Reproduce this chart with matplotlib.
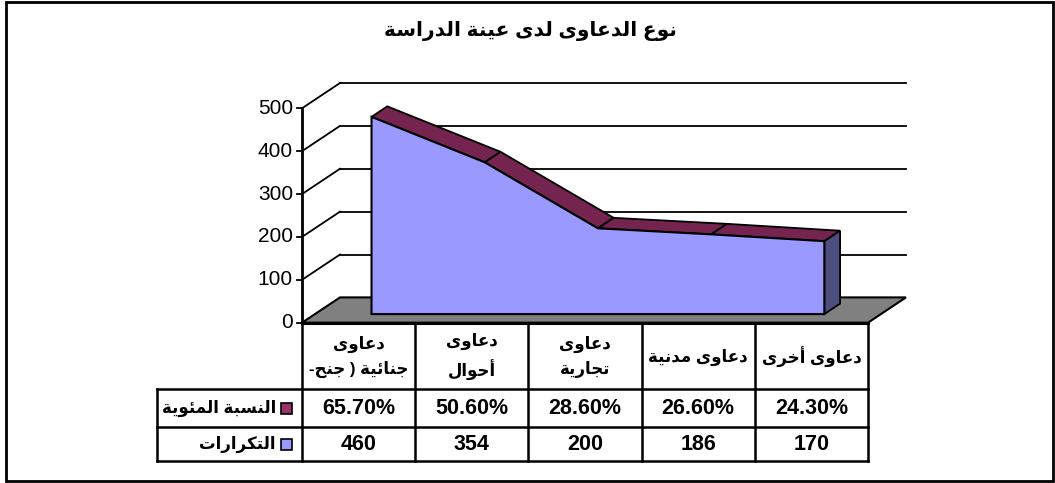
import numpy as np
import matplotlib
matplotlib.use("Agg")
import matplotlib.pyplot as plt
from matplotlib.patches import Polygon, Rectangle

# ---------------- data ----------------
title = "نوع الدعاوى لدى عينة الدراسة"
categories = ["دعاوى\nجنائية ( جنح-", "دعاوى\nأحوال", "دعاوى\nتجارية", "دعاوى مدنية", "دعاوى أخرى"]
counts = [460, 354, 200, 186, 170]
percents = [65.70, 50.60, 28.60, 26.60, 24.30]
series_names = ["النسبة المئوية", "التكرارات"]
series_colors = ["#993366", "#9999FF"]
y_ticks = [0, 100, 200, 300, 400, 500]

# ---------------- minimal Arabic shaping ----------------
FORMS = {
    '\u0621': ('\uFE80', None, None, None),
    '\u0622': ('\uFE81', '\uFE82', None, None),
    '\u0623': ('\uFE83', '\uFE84', None, None),
    '\u0624': ('\uFE85', '\uFE86', None, None),
    '\u0625': ('\uFE87', '\uFE88', None, None),
    '\u0626': ('\uFE89', '\uFE8A', '\uFE8B', '\uFE8C'),
    '\u0627': ('\uFE8D', '\uFE8E', None, None),
    '\u0628': ('\uFE8F', '\uFE90', '\uFE91', '\uFE92'),
    '\u0629': ('\uFE93', '\uFE94', None, None),
    '\u062A': ('\uFE95', '\uFE96', '\uFE97', '\uFE98'),
    '\u062B': ('\uFE99', '\uFE9A', '\uFE9B', '\uFE9C'),
    '\u062C': ('\uFE9D', '\uFE9E', '\uFE9F', '\uFEA0'),
    '\u062D': ('\uFEA1', '\uFEA2', '\uFEA3', '\uFEA4'),
    '\u062E': ('\uFEA5', '\uFEA6', '\uFEA7', '\uFEA8'),
    '\u062F': ('\uFEA9', '\uFEAA', None, None),
    '\u0630': ('\uFEAB', '\uFEAC', None, None),
    '\u0631': ('\uFEAD', '\uFEAE', None, None),
    '\u0632': ('\uFEAF', '\uFEB0', None, None),
    '\u0633': ('\uFEB1', '\uFEB2', '\uFEB3', '\uFEB4'),
    '\u0634': ('\uFEB5', '\uFEB6', '\uFEB7', '\uFEB8'),
    '\u0635': ('\uFEB9', '\uFEBA', '\uFEBB', '\uFEBC'),
    '\u0636': ('\uFEBD', '\uFEBE', '\uFEBF', '\uFEC0'),
    '\u0637': ('\uFEC1', '\uFEC2', '\uFEC3', '\uFEC4'),
    '\u0638': ('\uFEC5', '\uFEC6', '\uFEC7', '\uFEC8'),
    '\u0639': ('\uFEC9', '\uFECA', '\uFECB', '\uFECC'),
    '\u063A': ('\uFECD', '\uFECE', '\uFECF', '\uFED0'),
    '\u0641': ('\uFED1', '\uFED2', '\uFED3', '\uFED4'),
    '\u0642': ('\uFED5', '\uFED6', '\uFED7', '\uFED8'),
    '\u0643': ('\uFED9', '\uFEDA', '\uFEDB', '\uFEDC'),
    '\u0644': ('\uFEDD', '\uFEDE', '\uFEDF', '\uFEE0'),
    '\u0645': ('\uFEE1', '\uFEE2', '\uFEE3', '\uFEE4'),
    '\u0646': ('\uFEE5', '\uFEE6', '\uFEE7', '\uFEE8'),
    '\u0647': ('\uFEE9', '\uFEEA', '\uFEEB', '\uFEEC'),
    '\u0648': ('\uFEED', '\uFEEE', None, None),
    '\u0649': ('\uFEEF', '\uFEF0', '\uFBE8', '\uFBE9'),
    '\u064A': ('\uFEF1', '\uFEF2', '\uFEF3', '\uFEF4'),
}
LAM_ALEF = {'\u0627': ('\uFEFB', '\uFEFC'), '\u0623': ('\uFEF7', '\uFEF8'),
            '\u0625': ('\uFEF9', '\uFEFA'), '\u0622': ('\uFEF5', '\uFEF6')}
MIRROR = {'(': ')', ')': '(', '[': ']', ']': '[', '<': '>', '>': '<'}


def dual(ch):
    return ch in FORMS and FORMS[ch][2] is not None


def shape(text):
    out = []
    i = 0
    n = len(text)
    while i < n:
        c = text[i]
        prev = text[i - 1] if i > 0 else ''
        jp = dual(prev) and (i > 0)
        if c == '\u0644' and i + 1 < n and text[i + 1] in LAM_ALEF:
            iso, fin = LAM_ALEF[text[i + 1]]
            out.append(fin if jp else iso)
            i += 2
            continue
        if c in FORMS:
            nxt = text[i + 1] if i + 1 < n else ''
            jn = dual(c) and nxt in FORMS
            iso, fin, ini, med = FORMS[c]
            if jp and jn:
                g = med
            elif jp:
                g = fin
            elif jn:
                g = ini
            else:
                g = iso
            out.append(g)
        else:
            out.append(c)
        i += 1
    vis = ''.join(MIRROR.get(ch, ch) for ch in reversed(out))
    return vis


def rtl(text):
    return "\n".join(shape(line) for line in text.split("\n"))


# ---------------- figure & coordinate system ----------------
plt.rcParams['font.family'] = ['Liberation Sans', 'DejaVu Sans']
W, H = 1055, 483
X0, CW = 302.0, 113.2        # px of category 0 boundary, px per category
Y0, VS = 322.7, 0.4288       # px of value 0, px per value unit
DEPTH_X, DEPTH_Y = 38.0, 25.3

fig = plt.figure(figsize=(W / 100, H / 100), dpi=100)
ax = fig.add_axes([0, 0, 1, 1])
ax.set_xlim(-X0 / CW, (W - X0) / CW)
ax.set_ylim((Y0 - H) / VS, Y0 / VS)
ax.axis('off')

DX = DEPTH_X / CW
DY = DEPTH_Y / VS


def px(x):
    return (x - X0) / CW


def py(y):
    return (Y0 - y) / VS


def proj(x, v, d):
    return (x + d * DX, v + d * DY)


n = len(counts)
ncat = n
ymax = y_ticks[-1]

# floor
floor = Polygon([proj(0, 0, 0), proj(ncat, 0, 0), proj(ncat, 0, 1), proj(0, 0, 1)],
                closed=True, fc="#808080", ec="black", lw=1.5, zorder=1)
ax.add_patch(floor)

# back wall gridlines and side wall lines
for t in y_ticks[1:]:
    a, b = proj(0, t, 1), proj(ncat, t, 1)
    ax.plot([a[0], b[0]], [a[1], b[1]], color="black", lw=1.3, zorder=1)
    c = proj(0, t, 0)
    ax.plot([c[0], a[0]], [c[1], a[1]], color="black", lw=1.3, zorder=1)

# value axis
ax.plot([0, 0], [0, ymax], color="black", lw=2, zorder=3)
for t in y_ticks:
    ax.plot([px(297), 0], [t, t], color="black", lw=1.3, zorder=3)
    ax.text(px(293), t, str(t), ha="right", va="center", fontsize=15, zorder=3)

# 3D area
xs = np.arange(n) + 0.5
d0, d1 = 0.34, 0.755
front = [proj(xs[0], 0, d0)] + [proj(x, v, d0) for x, v in zip(xs, counts)] + [proj(xs[-1], 0, d0)]
for i in range(n - 1):
    top = [proj(xs[i], counts[i], d0), proj(xs[i + 1], counts[i + 1], d0),
           proj(xs[i + 1], counts[i + 1], d1), proj(xs[i], counts[i], d1)]
    ax.add_patch(Polygon(top, closed=True, fc="#74244F", ec="black", lw=1.3, zorder=4))
side = [proj(xs[-1], 0, d0), proj(xs[-1], counts[-1], d0),
        proj(xs[-1], counts[-1], d1), proj(xs[-1], 0, d1)]
ax.add_patch(Polygon(side, closed=True, fc="#4D4D80", ec="black", lw=1.3, zorder=4))
ax.add_patch(Polygon(front, closed=True, fc=series_colors[1], ec="black", lw=1.5, zorder=5))

# front edge of floor (category axis)
ax.plot([0, ncat], [0, 0], color="black", lw=2.2, zorder=6)

# ---------------- data table ----------------
row_top, row1, row2, row_bot = 323, 389, 427, 461
left_x = 157
lw_t = 1.8
for yy in (row1, row2, row_bot):
    ax.plot([px(left_x), ncat], [py(yy), py(yy)], color="black", lw=lw_t, zorder=6, clip_on=False)
for k in range(ncat + 1):
    ax.plot([k, k], [py(row_top), py(row_bot)], color="black", lw=lw_t, zorder=6, clip_on=False)
ax.plot([px(left_x), px(left_x)], [py(row1), py(row_bot)], color="black", lw=lw_t, zorder=6)

for k, cat in enumerate(categories):
    ax.text(k + 0.5, py((row_top + row1) / 2 + 1), rtl(cat), ha="center", va="center",
            fontsize=12, fontweight="bold", linespacing=1.6, zorder=7)
    ax.text(k + 0.5, py((row1 + row2) / 2 + 1), f"{percents[k]:.2f}%", ha="center", va="center",
            fontsize=15.5, fontweight="bold", zorder=7)
    ax.text(k + 0.5, py((row2 + row_bot) / 2 + 1), f"{counts[k]}", ha="center", va="center",
            fontsize=15.5, fontweight="bold", zorder=7)

for j, (name, col) in enumerate(zip(series_names, series_colors)):
    yc = (row1 + row2) / 2 if j == 0 else (row2 + row_bot) / 2
    ax.add_patch(Rectangle((px(281), py(yc + 5.5)), 11 / CW, 11 / VS, fc=col, ec="black",
                           lw=1.2, zorder=7))
    ax.text(px(276), py(yc), rtl(name), ha="right", va="center", fontsize=12,
            fontweight="bold", zorder=7)

# ---------------- title & frame ----------------
ax.text(px(530), py(31), rtl(title), ha="center", va="center", fontsize=14.5,
        fontweight="bold", zorder=7)
ax.add_patch(Rectangle((px(6), py(481)), (1053 - 6) / CW, (481 - 2) / VS, fill=False,
                       ec="black", lw=2, zorder=8, clip_on=False))

fig.savefig("out.png", dpi=100)
